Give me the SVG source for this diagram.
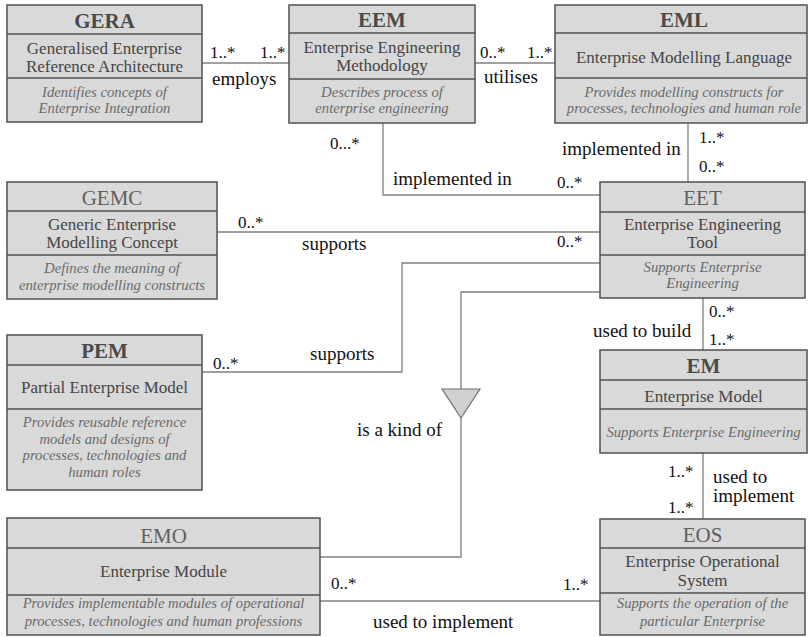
<svg xmlns="http://www.w3.org/2000/svg" width="809" height="637" viewBox="0 0 809 637">
  <style>
    .box { fill: #d9d9d9; stroke: #505050; stroke-width: 1.5; }
    .sep { stroke: #505050; stroke-width: 1.5; }
    .title { font-family: "Liberation Serif", serif; font-size: 21px; font-weight: bold; fill: #4a4a4a; text-anchor: middle; }
    .title-lt { font-family: "Liberation Serif", serif; font-size: 21px; fill: #606060; text-anchor: middle; }
    .name { font-family: "Liberation Serif", serif; font-size: 17px; fill: #454545; text-anchor: middle; }
    .desc { font-family: "Liberation Serif", serif; font-size: 14.7px; font-style: italic; fill: #6a6a6a; text-anchor: middle; }
    .conn { fill: none; stroke: #808080; stroke-width: 1.3; }
    .lbl { font-family: "Liberation Serif", serif; font-size: 19px; fill: #111; }
    .mul { font-family: "Liberation Serif", serif; font-size: 17px; fill: #111; }
    .gen { fill: #d0d0d0; stroke: #707070; stroke-width: 1.2; }
  </style>

  <rect width="809" height="637" fill="#ffffff"/>

  <!-- connectors -->
  <g id="connectors">
    <line class="conn" x1="202" y1="63" x2="289" y2="63"/>
    <line class="conn" x1="475" y1="63" x2="555" y2="63"/>
    <line class="conn" x1="688" y1="123" x2="688" y2="182"/>
    <polyline class="conn" points="383,123 383,195 600,195"/>
    <line class="conn" x1="217" y1="232" x2="600" y2="232"/>
    <polyline class="conn" points="600,263 402,263 402,372 202,372"/>
    <polyline class="conn" points="600,292 461,292 461,389"/>
    <polyline class="conn" points="461,418 461,557 320,557"/>
    <polygon class="gen" points="442,389 480,389 461,418"/>
    <line class="conn" x1="703" y1="298" x2="703" y2="350"/>
    <line class="conn" x1="703" y1="453" x2="703" y2="519"/>
    <line class="conn" x1="320" y1="601" x2="600" y2="601"/>

    <text class="mul" x="210" y="58">1..*</text>
    <text class="mul" x="260" y="58">1..*</text>
    <text class="lbl" x="212" y="85">employs</text>

    <text class="mul" x="480" y="58">0..*</text>
    <text class="mul" x="527" y="58">1..*</text>
    <text class="lbl" x="484" y="83">utilises</text>

    <text class="mul" x="699" y="143">1..*</text>
    <text class="mul" x="699" y="172">0..*</text>
    <text class="lbl" x="562" y="155">implemented in</text>

    <text class="mul" x="330" y="149">0...*</text>
    <text class="lbl" x="393" y="185">implemented in</text>
    <text class="mul" x="557" y="188">0..*</text>

    <text class="mul" x="238" y="228">0..*</text>
    <text class="lbl" x="302" y="250">supports</text>
    <text class="mul" x="557" y="247">0..*</text>

    <text class="mul" x="213" y="369">0..*</text>
    <text class="lbl" x="310" y="360">supports</text>

    <text class="lbl" x="357" y="436">is a kind of</text>

    <text class="mul" x="709" y="317">0..*</text>
    <text class="mul" x="709" y="345">1..*</text>
    <text class="lbl" x="593" y="337">used to build</text>

    <text class="mul" x="668" y="477">1..*</text>
    <text class="mul" x="668" y="513">1..*</text>
    <text class="lbl" x="713" y="483">used to</text>
    <text class="lbl" x="713" y="502">implement</text>

    <text class="mul" x="331" y="589">0..*</text>
    <text class="mul" x="563" y="590">1..*</text>
    <text class="lbl" x="373" y="628">used to implement</text>
  </g>

  <!-- classes -->
  <g id="GERA">
    <rect class="box" x="7" y="5" width="195" height="117"/>
    <line class="sep" x1="7" y1="34" x2="202" y2="34"/>
    <line class="sep" x1="7" y1="78" x2="202" y2="78"/>
    <text class="title" x="104.5" y="28">GERA</text>
    <text class="name" x="104.5" y="54">Generalised Enterprise</text>
    <text class="name" x="104.5" y="72">Reference Architecture</text>
    <text class="desc" x="104.5" y="97">Identifies concepts of</text>
    <text class="desc" x="104.5" y="113">Enterprise Integration</text>
  </g>

  <g id="EEM">
    <rect class="box" x="289" y="5" width="186" height="118"/>
    <line class="sep" x1="289" y1="33" x2="475" y2="33"/>
    <line class="sep" x1="289" y1="79" x2="475" y2="79"/>
    <text class="title" x="382" y="27">EEM</text>
    <text class="name" x="382" y="53">Enterprise Engineering</text>
    <text class="name" x="382" y="71">Methodology</text>
    <text class="desc" x="382" y="97">Describes process of</text>
    <text class="desc" x="382" y="113">enterprise engineering</text>
  </g>

  <g id="EML">
    <rect class="box" x="555" y="5" width="252" height="118"/>
    <line class="sep" x1="555" y1="33" x2="807" y2="33"/>
    <line class="sep" x1="555" y1="78" x2="807" y2="78"/>
    <text class="title" x="684" y="27">EML</text>
    <text class="name" x="684" y="63">Enterprise Modelling Language</text>
    <text class="desc" x="684" y="97">Provides modelling constructs for</text>
    <text class="desc" x="684" y="113">processes, technologies and human role</text>
  </g>

  <g id="GEMC">
    <rect class="box" x="7" y="182" width="210" height="117"/>
    <line class="sep" x1="7" y1="211" x2="217" y2="211"/>
    <line class="sep" x1="7" y1="255" x2="217" y2="255"/>
    <text class="title-lt" x="112" y="205">GEMC</text>
    <text class="name" x="112" y="230">Generic Enterprise</text>
    <text class="name" x="112" y="248">Modelling Concept</text>
    <text class="desc" x="112" y="273">Defines the meaning of</text>
    <text class="desc" x="112" y="290">enterprise modelling constructs</text>
  </g>

  <g id="EET">
    <rect class="box" x="600" y="182" width="205" height="116"/>
    <line class="sep" x1="600" y1="212" x2="805" y2="212"/>
    <line class="sep" x1="600" y1="255" x2="805" y2="255"/>
    <text class="title-lt" x="702.5" y="205">EET</text>
    <text class="name" x="702.5" y="230">Enterprise Engineering</text>
    <text class="name" x="702.5" y="248">Tool</text>
    <text class="desc" x="702.5" y="272">Supports Enterprise</text>
    <text class="desc" x="702.5" y="288">Engineering</text>
  </g>

  <g id="PEM">
    <rect class="box" x="7" y="335" width="195" height="155"/>
    <line class="sep" x1="7" y1="365" x2="202" y2="365"/>
    <line class="sep" x1="7" y1="409" x2="202" y2="409"/>
    <text class="title" x="104.5" y="358">PEM</text>
    <text class="name" x="104.5" y="393">Partial Enterprise Model</text>
    <text class="desc" x="104.5" y="427">Provides reusable reference</text>
    <text class="desc" x="104.5" y="444">models and designs of</text>
    <text class="desc" x="104.5" y="460">processes, technologies and</text>
    <text class="desc" x="104.5" y="477">human roles</text>
  </g>

  <g id="EM">
    <rect class="box" x="600" y="350" width="207" height="103"/>
    <line class="sep" x1="600" y1="380" x2="807" y2="380"/>
    <line class="sep" x1="600" y1="409" x2="807" y2="409"/>
    <text class="title" x="703.5" y="373">EM</text>
    <text class="name" x="703.5" y="402">Enterprise Model</text>
    <text class="desc" x="703.5" y="437">Supports Enterprise Engineering</text>
  </g>

  <g id="EMO">
    <rect class="box" x="7" y="518" width="313" height="117"/>
    <line class="sep" x1="7" y1="548" x2="320" y2="548"/>
    <line class="sep" x1="7" y1="595" x2="320" y2="595"/>
    <text class="title-lt" x="163.5" y="543">EMO</text>
    <text class="name" x="163.5" y="577">Enterprise Module</text>
    <text class="desc" x="163.5" y="608">Provides implementable modules of operational</text>
    <text class="desc" x="163.5" y="626">processes, technologies and human professions</text>
  </g>

  <g id="EOS">
    <rect class="box" x="600" y="519" width="205" height="116"/>
    <line class="sep" x1="600" y1="548" x2="805" y2="548"/>
    <line class="sep" x1="600" y1="593" x2="805" y2="593"/>
    <text class="title-lt" x="702.5" y="542">EOS</text>
    <text class="name" x="702.5" y="567">Enterprise Operational</text>
    <text class="name" x="702.5" y="586">System</text>
    <text class="desc" x="702.5" y="608">Supports the operation of the</text>
    <text class="desc" x="702.5" y="626">particular Enterprise</text>
  </g>
</svg>
